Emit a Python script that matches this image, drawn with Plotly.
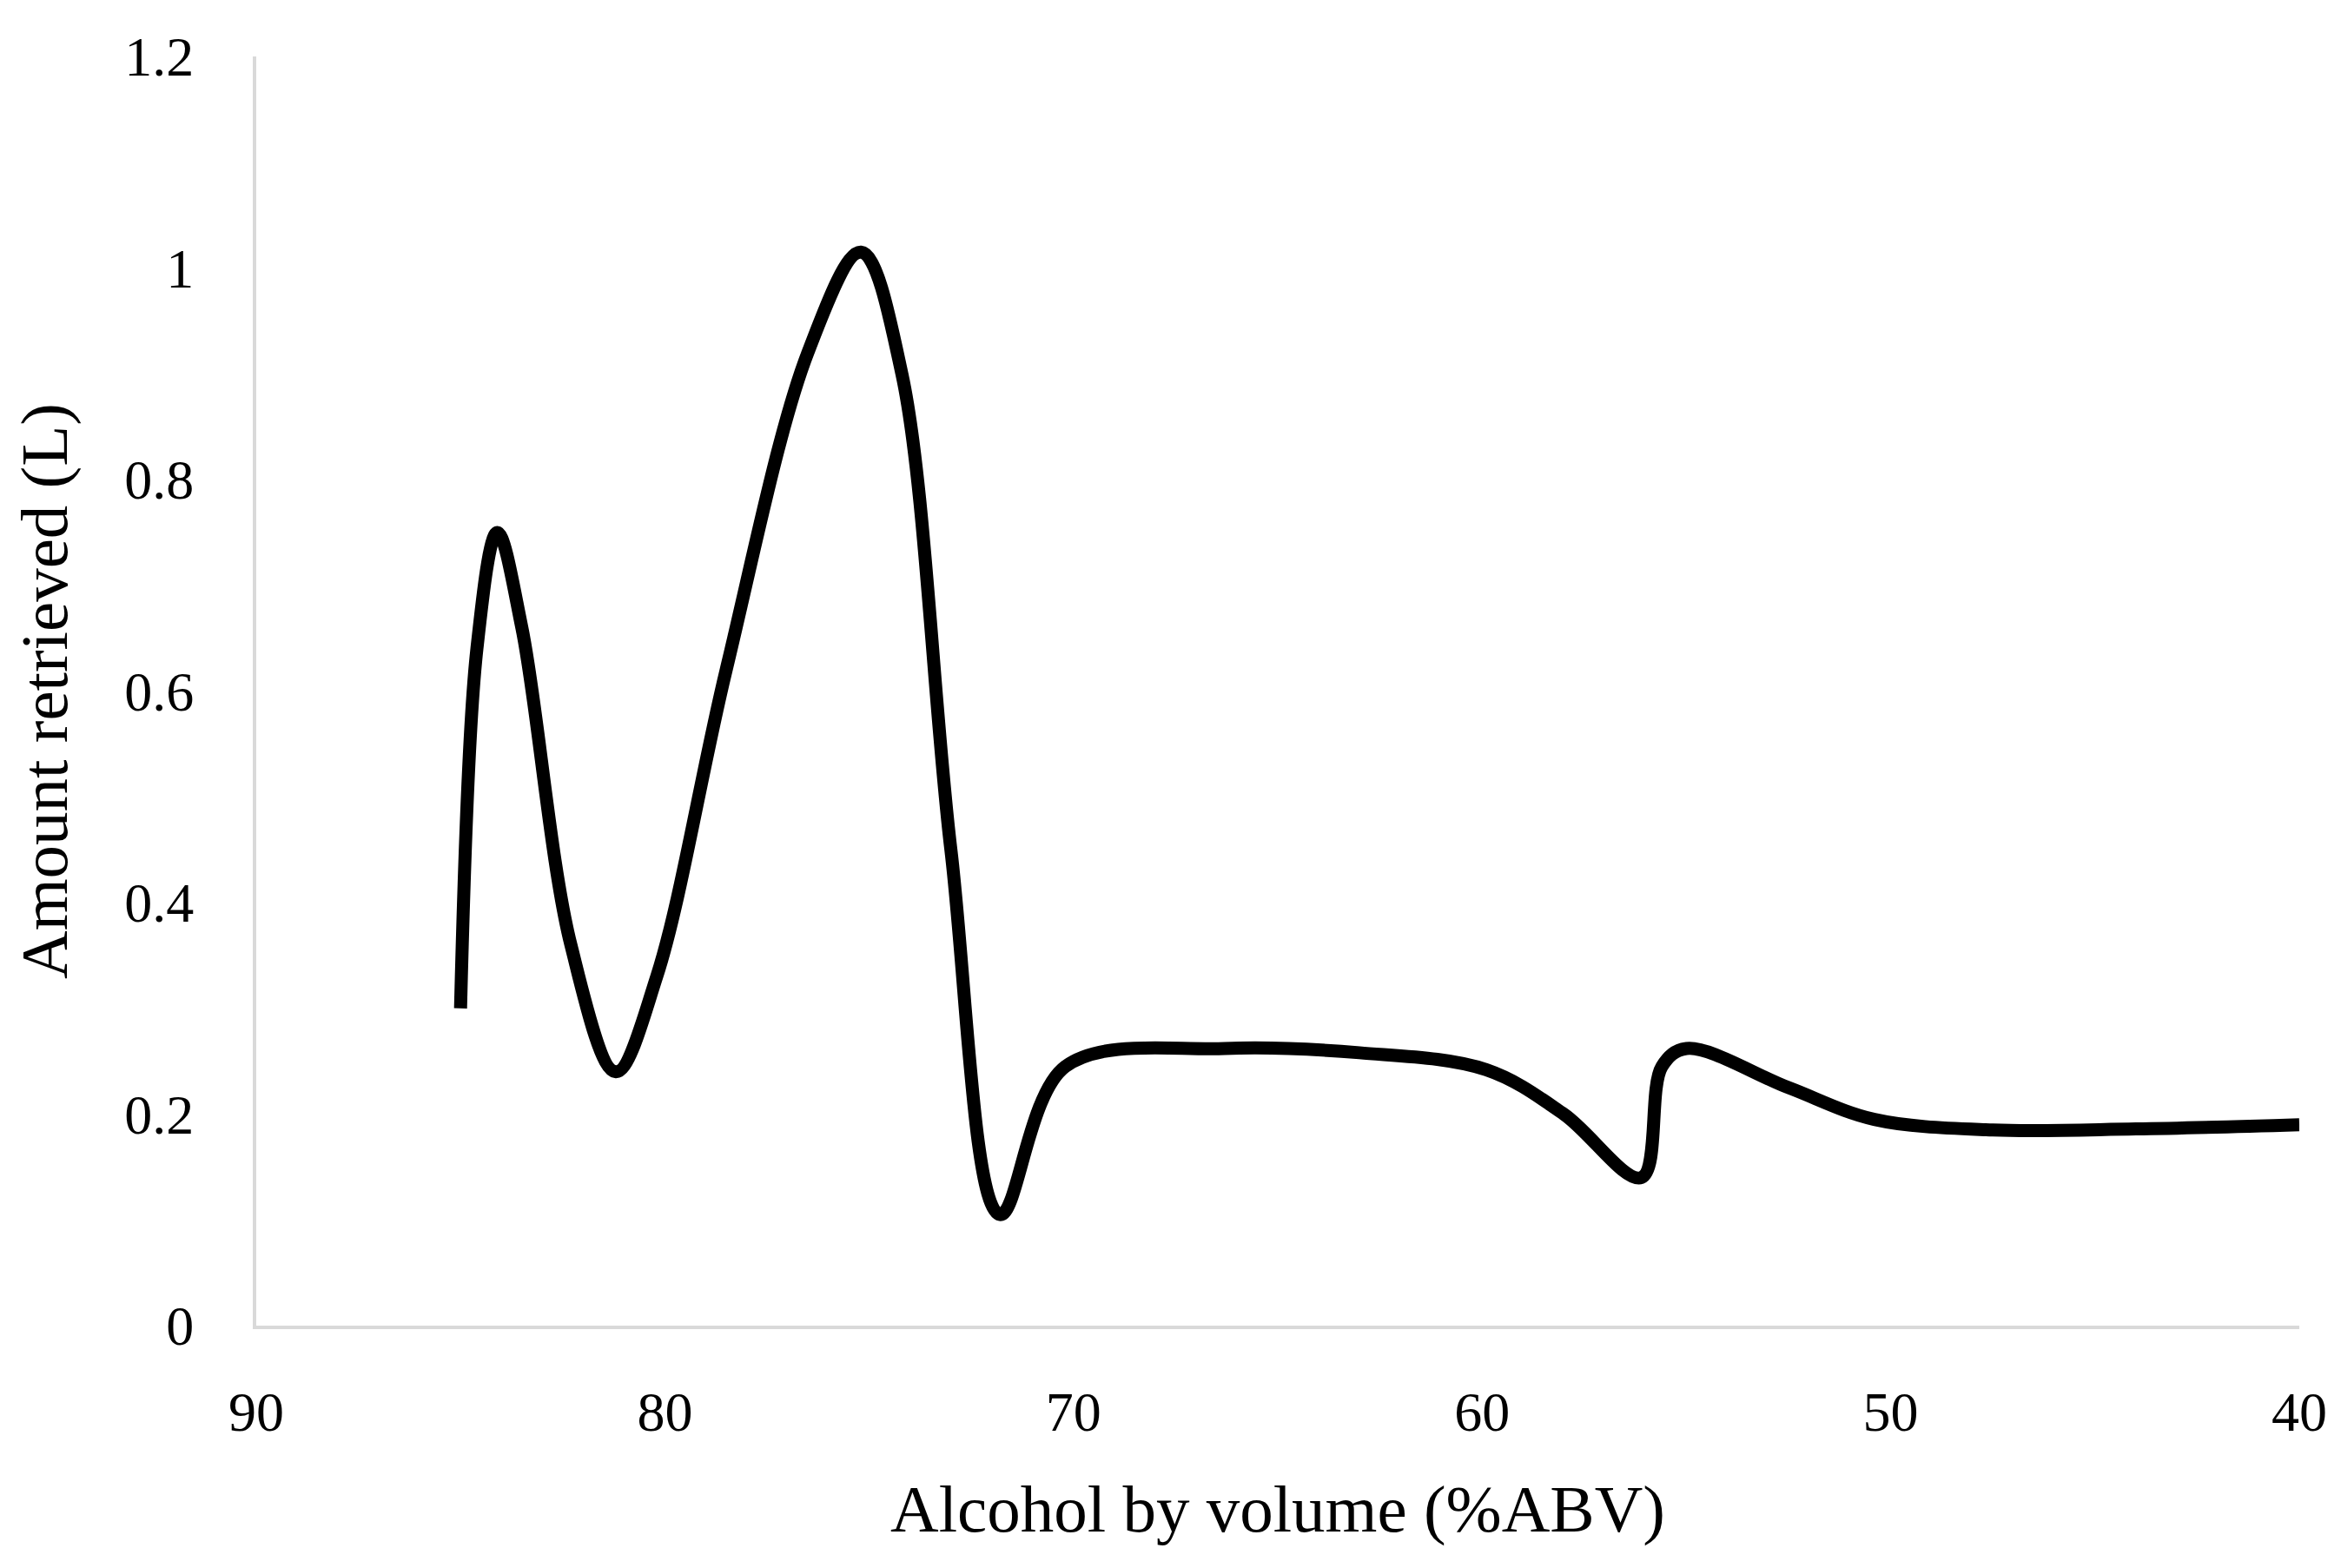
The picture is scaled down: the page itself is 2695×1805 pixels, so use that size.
import plotly.graph_objects as go

# values (x: %ABV, y: litres)
abv = [85.0, 84.6, 84.1, 83.5, 82.3, 81.2, 80.2, 78.5, 76.5, 75.2, 74.2, 73.0,
       71.8, 70.2, 66.3, 63.0, 59.9, 58.0, 56.1, 55.6, 55.0, 52.5, 50.4,
       47.5, 44.0, 40.0]
amount = [0.30, 0.64, 0.75, 0.66, 0.36, 0.24, 0.33, 0.62, 0.92, 1.015, 0.90, 0.45,
          0.105, 0.245, 0.262, 0.258, 0.242, 0.20, 0.14, 0.245, 0.262, 0.225, 0.195,
          0.185, 0.186, 0.19]

FONT = "Liberation Serif, DejaVu Serif, serif"
AXIS = "#D9D9D9"

fig = go.Figure(go.Scatter(
    x=abv, y=amount, mode="lines",
    line=dict(color="black", width=15, shape="spline", smoothing=1.0),
    showlegend=False))

fig.update_xaxes(range=[90, 40], tickvals=[90, 80, 70, 60, 50, 40],
                 showgrid=False, zeroline=False, showline=True,
                 linecolor=AXIS, linewidth=4, ticks="", ticklabelstandoff=40,
                 title=dict(text="Alcohol by volume (%ABV)", standoff=50))
fig.update_yaxes(range=[0, 1.2], tickvals=[0, 0.2, 0.4, 0.6, 0.8, 1, 1.2],
                 ticktext=["0", "0.2", "0.4", "0.6", "0.8", "1", "1.2"],
                 showgrid=False, zeroline=False, showline=True,
                 linecolor=AXIS, linewidth=4, ticks="", ticklabelstandoff=55,
                 title=dict(text="Amount retrieved (L)", standoff=55))

fig.update_layout(
    width=2695, height=1805,
    paper_bgcolor="white", plot_bgcolor="white",
    font=dict(family=FONT, size=64, color="black"),
    margin=dict(l=287, r=56, t=57, b=287),
)

fig.write_html("out.html")
